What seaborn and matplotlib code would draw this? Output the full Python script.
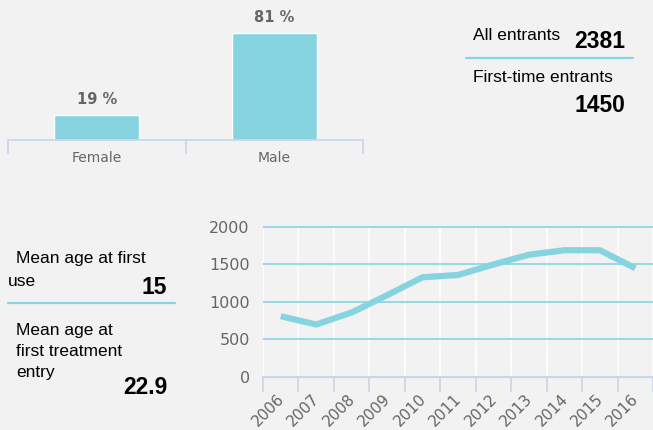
import pandas as pd
import matplotlib.pyplot as plt
import seaborn as sns

# Data
genders = ['Female', 'Male']
gender_share = [19, 81]

years = ['2006', '2007', '2008', '2009', '2010', '2011',
         '2012', '2013', '2014', '2015', '2016']
entrants = [810, 700, 860, 1090, 1330, 1360, 1500, 1630, 1690, 1690, 1450]

all_entrants = '2381'
first_time_entrants = '1450'
age_first_use = '15'
age_first_treatment = '22.9'

BG = '#f2f2f2'
BLUE = '#87d4e1'
AXIS = '#c9d5ea'
GREY = '#666666'

W, H = 653, 430


def fx(x):
    return x / W


def fy(y):
    return 1 - y / H


sns.set_theme(style='white')
plt.rcParams['font.family'] = ['DejaVu Sans']

fig = plt.figure(figsize=(W / 100, H / 100), dpi=100, facecolor=BG)

# ---- gender bar chart ----
ax1 = fig.add_axes([fx(8), fy(140), (363 - 8) / W, 132 / H])
ax1.set_facecolor(BG)
bar_df = pd.DataFrame({'gender': genders, 'share': gender_share})
sns.barplot(data=bar_df, x='gender', y='share', color=BLUE, saturation=1,
            width=0.48, edgecolor='white', linewidth=1, ax=ax1)
ax1.set_ylim(0, 100)
ax1.set_xlim(-0.5, 1.5)
ax1.set_xlabel('')
ax1.set_ylabel('')
ax1.set_yticks([])
for side in ['top', 'left', 'right']:
    ax1.spines[side].set_visible(False)
ax1.spines['bottom'].set_color(AXIS)
ax1.spines['bottom'].set_linewidth(1.2)
ax1.set_xticks([-0.5, 0.5, 1.5], minor=True)
ax1.tick_params(axis='x', which='minor', length=10, color=AXIS, width=1.2, bottom=True)
ax1.tick_params(axis='x', which='major', length=0, pad=8, labelsize=10, labelcolor=GREY)
for i, v in enumerate(gender_share):
    ax1.text(i, v + 6, f'{v} %', ha='center', va='bottom', fontsize=10.5,
             fontweight='bold', color=GREY)

# ---- entrants over time ----
ax2 = fig.add_axes([fx(263), fy(377), (W - 263) / W, 151 / H])
ax2.set_facecolor(BG)
line_df = pd.DataFrame({'year': years, 'entrants': entrants})
sns.lineplot(data=line_df, x='year', y='entrants', color=BLUE, linewidth=4.5,
             solid_capstyle='butt', ax=ax2, zorder=3)
ax2.set_xlim(-0.5, len(years) - 0.5)
ax2.set_ylim(0, 2013)
ax2.set_yticks([0, 500, 1000, 1500, 2000])
ax2.set_xlabel('')
ax2.set_ylabel('')
for side in ['top', 'left', 'right']:
    ax2.spines[side].set_visible(False)
ax2.spines['bottom'].set_color(AXIS)
ax2.spines['bottom'].set_linewidth(1.5)
ax2.grid(axis='y', color=BLUE, linewidth=1.2)
ax2.set_xticks([i - 0.5 for i in range(len(years) + 1)], minor=True)
ax2.grid(axis='x', which='minor', color='white', linewidth=1.2)
ax2.grid(axis='x', which='major', visible=False)
ax2.tick_params(axis='x', which='minor', length=11, color=AXIS, width=1.2, bottom=True)
ax2.tick_params(axis='x', which='major', length=0, pad=13, labelsize=11, labelcolor=GREY)
ax2.tick_params(axis='y', length=0, pad=9.5, labelsize=11.5, labelcolor=GREY)
for lab in ax2.get_xticklabels():
    lab.set_rotation(45)
    lab.set_ha('right')
    lab.set_va('center_baseline')
    lab.set_rotation_mode('anchor')

# ---- key figures ----
tf = ['Liberation Sans', 'DejaVu Sans']
fs, fb = 12.5, 16.5
fig.text(fx(473), fy(36), 'All entrants', fontsize=fs, family=tf, va='center', color='black')
fig.text(fx(625), fy(41), all_entrants, fontsize=fb, fontweight='bold', family=tf,
         ha='right', va='center', color='black')
fig.add_artist(plt.Line2D([fx(466), fx(633)], [fy(58), fy(58)], color=BLUE, linewidth=1.6))
fig.text(fx(473), fy(77), 'First-time entrants', fontsize=fs, family=tf, va='center', color='black')
fig.text(fx(625), fy(106), first_time_entrants, fontsize=fb, fontweight='bold', family=tf,
         ha='right', va='center', color='black')

fig.text(fx(16), fy(258), 'Mean age at first', fontsize=fs, family=tf, va='center', color='black')
fig.text(fx(8), fy(282), 'use', fontsize=fs, family=tf, va='center', color='black')
fig.text(fx(167), fy(287), age_first_use, fontsize=fb, fontweight='bold', family=tf,
         ha='right', va='center', color='black')
fig.add_artist(plt.Line2D([fx(8), fx(175)], [fy(303), fy(303)], color=BLUE, linewidth=1.6))
fig.text(fx(16), fy(330), 'Mean age at', fontsize=fs, family=tf, va='center', color='black')
fig.text(fx(16), fy(351), 'first treatment', fontsize=fs, family=tf, va='center', color='black')
fig.text(fx(16), fy(372), 'entry', fontsize=fs, family=tf, va='center', color='black')
fig.text(fx(167), fy(388), age_first_treatment, fontsize=fb, fontweight='bold', family=tf,
         ha='right', va='center', color='black')

fig.savefig('out.png', dpi=100, facecolor=BG)
